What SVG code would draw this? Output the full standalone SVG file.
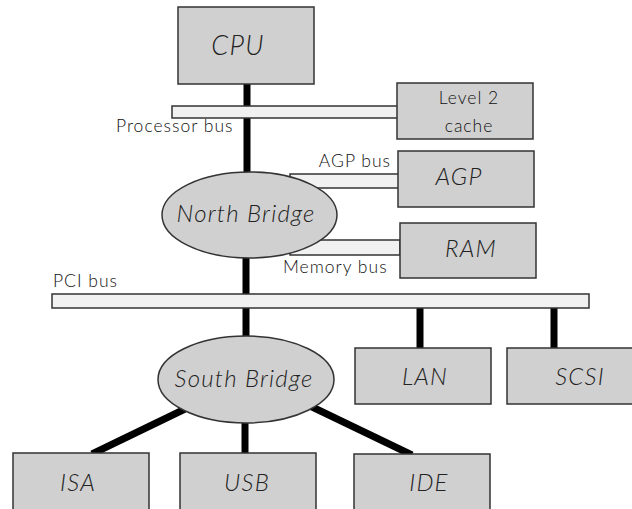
<svg xmlns="http://www.w3.org/2000/svg" width="632" height="509" viewBox="0 0 632 509">
<style>
.box{fill:#d0d0d0;stroke:#333;stroke-width:1.5}
.bus{fill:#f1f1f1;stroke:#333;stroke-width:1.5}
.wire{stroke:#000;stroke-width:7;fill:none}
.lbl{font-family:Lato,"Open Sans",sans-serif;font-style:italic;font-weight:300;font-size:24px;fill:#222;text-anchor:middle;letter-spacing:1.2px}
.sm{font-family:Lato,"Open Sans",sans-serif;font-weight:300;font-size:17.5px;fill:#111;letter-spacing:1px}
</style>
<rect width="632" height="509" fill="#fff"/>
<g id="connectors">
<line class="wire" x1="247" y1="84" x2="247" y2="175"/>
<line class="wire" x1="246" y1="255" x2="246" y2="338"/>
<line class="wire" x1="420" y1="308" x2="420" y2="348"/>
<line class="wire" x1="554" y1="308" x2="554" y2="348"/>
<line class="wire" x1="185" y1="409" x2="92" y2="454"/>
<line class="wire" x1="245" y1="420" x2="245" y2="454"/>
<line class="wire" x1="308" y1="405" x2="412" y2="455"/>
<rect class="bus" x="172" y="106" width="226" height="12"/>
<rect class="bus" x="290" y="174" width="109" height="14"/>
<rect class="bus" x="290" y="240" width="110" height="15"/>
<rect class="bus" x="52" y="294" width="537" height="14"/>
<text class="sm" x="116" y="132">Processor bus</text>
<text class="sm" x="391" y="167" text-anchor="end">AGP bus</text>
<text class="sm" x="283" y="273">Memory bus</text>
<text class="sm" x="53" y="287">PCI bus</text>
</g>
<g id="cpu"><rect class="box" x="178" y="7" width="136" height="77"/><text class="lbl" x="238" y="55" style="font-size:27px">CPU</text></g>
<g id="l2cache"><rect class="box" x="397" y="83" width="136" height="56"/><text class="sm" x="469" y="104" text-anchor="middle">Level 2</text><text class="sm" x="469" y="132" text-anchor="middle">cache</text></g>
<g id="agp"><rect class="box" x="398" y="151" width="136" height="56"/><text class="lbl" x="459" y="185">AGP</text></g>
<g id="ram"><rect class="box" x="400" y="223" width="136" height="55"/><text class="lbl" x="471" y="257">RAM</text></g>
<g id="northbridge"><ellipse class="box" cx="249.5" cy="215" rx="87.5" ry="43"/><text class="lbl" x="246" y="222">North Bridge</text></g>
<g id="southbridge"><ellipse class="box" cx="246" cy="379.5" rx="88" ry="43.5"/><text class="lbl" x="244" y="387">South Bridge</text></g>
<g id="lan"><rect class="box" x="355" y="348" width="136" height="56"/><text class="lbl" x="425" y="385">LAN</text></g>
<g id="scsi"><rect class="box" x="507" y="348" width="140" height="56"/><text class="lbl" x="580" y="385">SCSI</text></g>
<g id="isa"><rect class="box" x="13" y="453" width="136" height="70"/><text class="lbl" x="78" y="491">ISA</text></g>
<g id="usb"><rect class="box" x="180" y="453" width="136" height="70"/><text class="lbl" x="247" y="491">USB</text></g>
<g id="ide"><rect class="box" x="354" y="454" width="136" height="70"/><text class="lbl" x="429" y="491">IDE</text></g>
</svg>
